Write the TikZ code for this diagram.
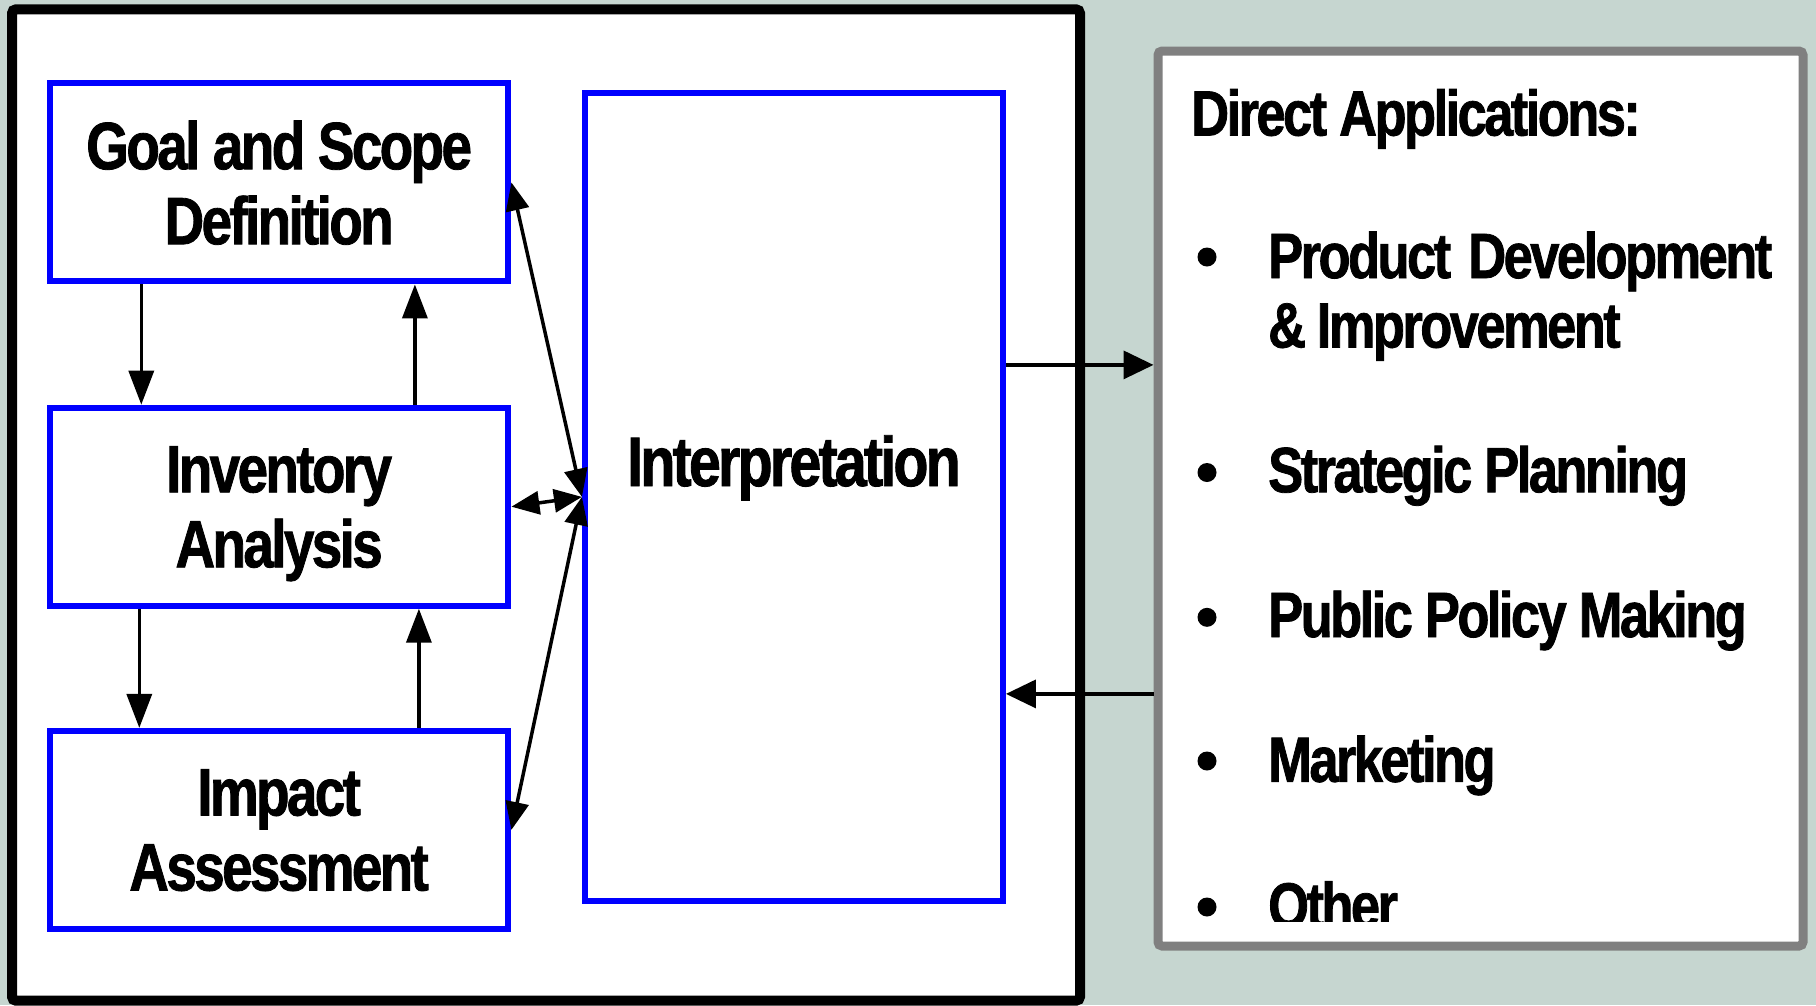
\documentclass[tikz,border=0pt]{standalone}
\usepackage{fontspec}
\setmainfont{Liberation Sans}
\newfontfamily\cf[FakeStretch=0.82,LetterSpace=-4,FakeBold=1.2]{Liberation Sans}
\usetikzlibrary{arrows.meta}
\definecolor{bgc}{RGB}{198,214,208}
\definecolor{boxblue}{RGB}{0,0,255}
\definecolor{boxgray}{RGB}{128,128,128}
\begin{document}
\begin{tikzpicture}[x=1pt,y=-1pt,
  lbl/.style={font=\cf\bfseries\fontsize{64}{74}\selectfont, inner sep=0pt},
  bluebox/.style={draw=boxblue, line width=6pt, fill=white, inner sep=0pt,
    minimum width=458.6pt, minimum height=198pt, align=center, text depth=0pt,
    font=\cf\bfseries\fontsize{67}{75}\selectfont},
  arr/.style={line width=3.5pt, -{Triangle[length=34pt,width=25pt]}},
  harr/.style={line width=3.5pt, -{Triangle[length=30pt,width=28pt]}},
  darr/.style={line width=3.5pt, {Triangle[length=28pt,width=23pt]}-{Triangle[length=28pt,width=23pt]}},
  bullet/.style={circle, fill=black, inner sep=0pt, minimum size=19pt}
]
\fill[bgc] (0,0) rectangle (1816,1005);
\useasboundingbox (0,0) rectangle (1816,1005);

% outer frame
\node[draw=black, line width=10pt, fill=white, rounded corners=4pt, inner sep=0pt,
  minimum width=1068pt, minimum height=991.4pt] (frame) at (546,505) {};

% right applications box
\node[draw=boxgray, line width=9pt, fill=white, rounded corners=4pt, inner sep=0pt,
  minimum width=645pt, minimum height=895pt] (apps) at (1480.5,498.5) {};

% blue boxes
\node[bluebox] (goal) at (279.1,182.4) {Goal and Scope\\Definition};
\node[bluebox] (inv) at (279.1,506.7) {Inventory\\Analysis};
\node[bluebox] (imp) at (279.1,829.9) {Impact\\Assessment};
\node[bluebox, minimum width=418pt, minimum height=808.3pt] (interp) at (793.95,496.9) {};
\node[lbl, font=\cf\bfseries\fontsize{70}{76}\selectfont] (interplbl) at ([yshift=29pt]interp.center) {Interpretation};

% vertical arrows
\draw[arr] ([xshift=94.5pt]goal.south west) -- ([xshift=94.5pt]inv.north west);
\draw[arr] ([xshift=-96.5pt]inv.north east) -- ([xshift=-96.5pt]goal.south east);
\draw[arr] ([xshift=92.5pt]inv.south west) -- ([xshift=92.5pt]imp.north west);
\draw[arr] ([xshift=-92.5pt]imp.north east) -- ([xshift=-92.5pt]inv.south east);

% double arrows to interpretation
\draw[darr] (goal.east) -- (interp.west);
\draw[darr] (inv.east) -- (interp.west);
\draw[darr] (imp.east) -- (interp.west);

% horizontal arrows
\coordinate (o1) at ([yshift=132pt]interp.east);
\coordinate (o2) at (o1 -| apps.west);
\coordinate (i1) at ([yshift=-197pt]interp.east);
\coordinate (i2) at (i1 -| apps.west);
\draw[harr] (o1) -- (o2);
\draw[harr] (i2) -- (i1);

% applications text
\node[lbl, anchor=base west] (da) at (1191,135.5) {Direct Applications:};
\node[bullet] (b1) at (1207,257) {};
\node[lbl, anchor=base west] (t1) at (1268,278) {\makebox[504pt][s]{Product Development}};
\node[lbl, anchor=base west] (t1b) at (1268,347.5) {\&\,Improvement};
\node[bullet] (b2) at (1207,472.5) {};
\node[lbl, anchor=base west] (t2) at (1268,492.2) {Strategic Planning};
\node[bullet] (b3) at (1207,617.3) {};
\node[lbl, anchor=base west] (t3) at (1268,637) {Public Policy Making};
\node[bullet] (b4) at (1207,761) {};
\node[lbl, anchor=base west] (t4) at (1268,781.8) {Marketing};
\node[bullet] (b5) at (1207,907) {};
\begin{scope}
\clip (1150,0) rectangle (1816,921.5);
\node[lbl, anchor=base west] (t5) at (1268,927.6) {Other};
\end{scope}
\end{tikzpicture}
\end{document}
